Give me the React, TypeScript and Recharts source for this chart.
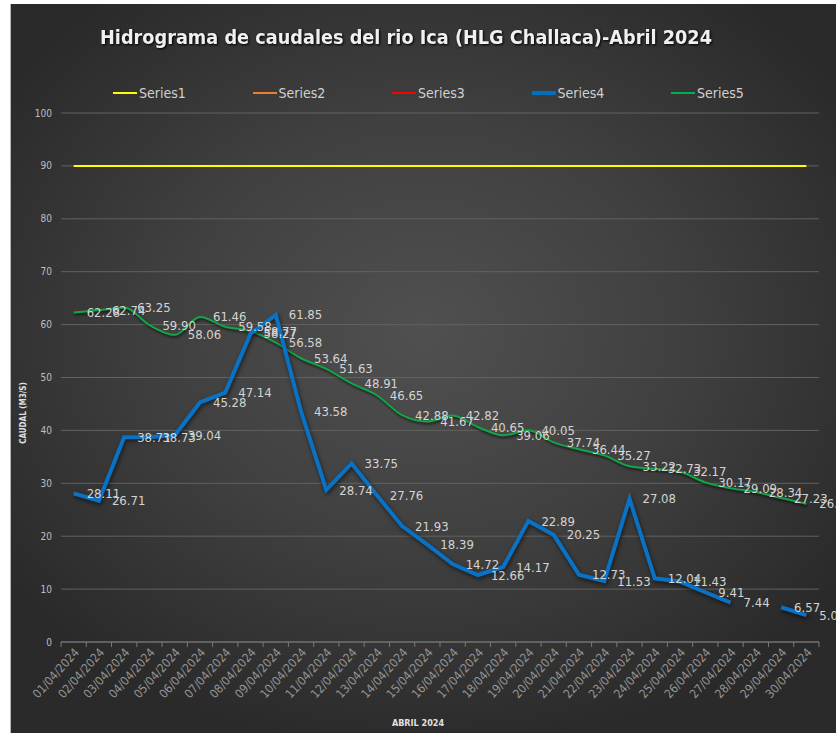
import React from 'react';
import { LineChart, Line, XAxis, YAxis, CartesianGrid, LabelList } from 'recharts';

const dates = [
  '01/04/2024', '02/04/2024', '03/04/2024', '04/04/2024', '05/04/2024', '06/04/2024',
  '07/04/2024', '08/04/2024', '09/04/2024', '10/04/2024', '11/04/2024', '12/04/2024',
  '13/04/2024', '14/04/2024', '15/04/2024', '16/04/2024', '17/04/2024', '18/04/2024',
  '19/04/2024', '20/04/2024', '21/04/2024', '22/04/2024', '23/04/2024', '24/04/2024',
  '25/04/2024', '26/04/2024', '27/04/2024', '28/04/2024', '29/04/2024', '30/04/2024',
];

// Series1: umbral constante
const series1 = [
  90, 90, 90, 90, 90, 90, 90, 90, 90, 90, 90, 90, 90, 90, 90,
  90, 90, 90, 90, 90, 90, 90, 90, 90, 90, 90, 90, 90, 90, 90,
];
// Series2 y Series3 no tienen datos visibles
const series2: (number | null)[] = [];
const series3: (number | null)[] = [];
// Series4: caudal diario
const series4 = [
  28.11, 26.71, 38.71, 38.73, 39.04, 45.28, 47.14, 58.27, 61.85, 43.58,
  28.74, 33.75, 27.76, 21.93, 18.39, 14.72, 12.66, 14.17, 22.89, 20.25,
  12.73, 11.53, 27.08, 12.04, 11.43, 9.41, 7.44, null, 6.57, 5.09,
];
// Series5
const series5 = [
  62.28, 62.74, 63.25, 59.9, 58.06, 61.46, 59.58, 58.77, 56.58, 53.64,
  51.63, 48.91, 46.65, 42.88, 41.67, 42.82, 40.65, 39.06, 40.05, 37.74,
  36.44, 35.27, 33.22, 32.73, 32.17, 30.17, 29.09, 28.34, 27.23, 26.12,
];
const yTicks = [0, 10, 20, 30, 40, 50, 60, 70, 80, 90, 100];

const legendItems = [
  { name: 'Series1', color: '#ffff00', width: 2 },
  { name: 'Series2', color: '#ed7d31', width: 2 },
  { name: 'Series3', color: '#ff0000', width: 2 },
  { name: 'Series4', color: '#0070c0', width: 4 },
  { name: 'Series5', color: '#00b050', width: 2 },
];

const data = dates.map((d, i) => ({
  name: d,
  s1: series1[i],
  s2: series2[i] ?? null,
  s3: series3[i] ?? null,
  s4: series4[i],
  s5: series5[i],
}));

const W = 826;
const H = 729;
const FONT = '"Liberation Sans Narrow", "DejaVu Sans Condensed", "Liberation Sans", sans-serif';
const HALF_BAND = (W - 17 - 51) / dates.length / 2;

const fmt = (v: any) => (v == null ? '' : Number(v).toFixed(2));

function XTick({ x, y, payload, index }: any) {
  return (
    <g transform={`translate(${x},${y})`}>
      <line x1={HALF_BAND} x2={HALF_BAND} y1={0} y2={5} stroke="#7a7a7a" />
      {index === 0 && <line x1={-HALF_BAND} x2={-HALF_BAND} y1={0} y2={5} stroke="#7a7a7a" />}
      <text
        transform="translate(3,8) rotate(-48)"
        textAnchor="end"
        dy="0.35em"
        fill="#959595"
        fontSize={12}
        fontFamily={FONT}
      >
        {payload.value}
      </text>
    </g>
  );
}

export default function App() {
  return (
    <div
      style={{
        position: 'absolute',
        left: 0,
        top: 0,
        width: 836,
        height: 733,
        background: '#ffffff',
        overflow: 'hidden',
      }}
    >
      <div
        style={{
          position: 'absolute',
          left: 10,
          top: 4,
          width: W,
          height: H,
          borderLeft: '1px solid #b5b5b5',
          boxSizing: 'border-box',
          background:
            'radial-gradient(ellipse 62% 58% at 50% 45%, #505050 0%, #404040 50%, #2a2a2a 100%)',
        }}
      />
      <svg width={836} height={70} style={{ position: 'absolute', left: 0, top: 0 }}>
        <text
          x={406}
          y={44}
          textAnchor="middle"
          textLength={612}
          lengthAdjust="spacingAndGlyphs"
          fill="#f0f0f0"
          fontSize={20}
          fontWeight="bold"
          fontFamily={FONT}
          style={{ filter: 'drop-shadow(1px 1px 1px #000)' }}
        >
          Hidrograma de caudales del rio Ica (HLG Challaca)-Abril 2024
        </text>
      </svg>
      {legendItems.map((item, i) => (
        <div
          key={item.name}
          style={{
            position: 'absolute',
            left: 113 + i * 139.5,
            top: 84,
            height: 18,
            display: 'flex',
            alignItems: 'center',
            fontFamily: FONT,
            fontSize: 14,
            color: '#d0d0d0',
          }}
        >
          <span
            style={{
              display: 'inline-block',
              width: 24,
              height: item.width,
              background: item.color,
              marginRight: 2,
            }}
          />
          {item.name}
        </div>
      ))}
      <div style={{ position: 'absolute', left: 10, top: 4 }}>
        <LineChart width={W} height={H} data={data} margin={{ top: 109, right: 17, bottom: 0, left: 0 }}>
          <CartesianGrid horizontal vertical={false} stroke="#626262" strokeWidth={1} />
          <XAxis
            dataKey="name"
            height={91}
            stroke="#7a7a7a"
            tickSize={0}
            tickMargin={0}
            interval={0}
            padding={{ left: HALF_BAND, right: HALF_BAND }}
            tick={<XTick />}
            label={{
              content: () => (
                <text x={408} y={722} textAnchor="middle" fill="#e0e0e0" fontSize={9} fontWeight="bold" fontFamily={FONT}>
                  ABRIL 2024
                </text>
              ),
            }}
          />
          <YAxis
            width={51}
            domain={[0, 100]}
            ticks={yTicks}
            axisLine={false}
            tickLine={false}
            tickSize={0}
            tickMargin={9}
            tick={{ fill: '#bfbfbf', fontSize: 10, fontFamily: FONT }}
            label={{
              content: () => (
                <text
                  x={16}
                  y={409}
                  transform="rotate(-90 16 409)"
                  textAnchor="middle"
                  fill="#e0e0e0"
                  fontSize={8}
                  fontWeight="bold"
                  fontFamily={FONT}
                >
                  CAUDAL (M3/S)
                </text>
              ),
            }}
          />
          <Line
            dataKey="s1"
            type="linear"
            stroke="#ffff00"
            strokeWidth={2}
            dot={false}
            isAnimationActive={false}
          />
          <Line dataKey="s2" type="linear" stroke="#ed7d31" strokeWidth={2} dot={false} isAnimationActive={false} />
          <Line dataKey="s3" type="linear" stroke="#ff0000" strokeWidth={2} dot={false} isAnimationActive={false} />
          <Line
            dataKey="s5"
            type="monotone"
            stroke="#12a546"
            strokeWidth={2}
            dot={false}
            isAnimationActive={false}
            style={{ filter: 'drop-shadow(1px 2px 1px rgba(0,0,0,0.6))' }}
          >
            <LabelList dataKey="s5" position="right" offset={13} formatter={fmt} fill="#d4d4d4" fontSize={13} fontFamily={FONT} />
          </Line>
          <Line
            dataKey="s4"
            type="linear"
            stroke="#0a72c4"
            strokeWidth={4}
            dot={false}
            connectNulls={false}
            isAnimationActive={false}
            style={{ filter: 'drop-shadow(1px 2px 2px rgba(0,0,0,0.6))' }}
          >
            <LabelList dataKey="s4" position="right" offset={13} formatter={fmt} fill="#d4d4d4" fontSize={13} fontFamily={FONT} />
          </Line>
        </LineChart>
      </div>
    </div>
  );
}
